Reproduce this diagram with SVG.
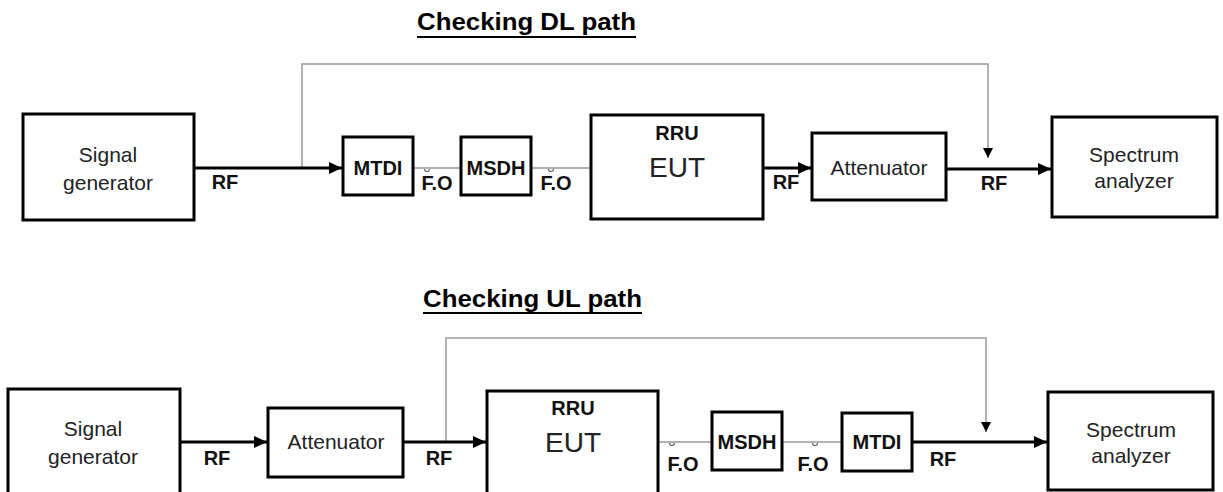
<svg xmlns="http://www.w3.org/2000/svg" width="1223" height="492" viewBox="0 0 1223 492">
<style>
.box{fill:#fff;stroke:#000;stroke-width:3}
.lbl{font-family:"Liberation Sans",Arial,sans-serif;font-size:21px;fill:#222;text-anchor:middle}
.bl{font-family:"Liberation Sans",Arial,sans-serif;font-weight:bold;font-size:20px;fill:#111;text-anchor:middle}
.title{font-family:"Liberation Sans",Arial,sans-serif;font-weight:bold;font-size:23px;fill:#000}
.thick{stroke:#000;stroke-width:3;fill:none}
.gray{stroke:#999;stroke-width:1.5;fill:none}
.fo{stroke:#666;stroke-width:1.2;fill:none}
</style>
<defs>
<marker id="ah" markerUnits="userSpaceOnUse" markerWidth="13" markerHeight="12" refX="13" refY="6" orient="auto">
<path d="M0,0 L13,6 L0,12 z" fill="#000"/>
</marker>
<marker id="ahs" markerUnits="userSpaceOnUse" markerWidth="10" markerHeight="10" refX="10" refY="5" orient="auto">
<path d="M0,0 L10,5 L0,10 z" fill="#000"/>
</marker>
</defs>

<g id="title-dl">
<text class="title" x="417" y="30" textLength="219" lengthAdjust="spacingAndGlyphs">Checking DL path</text>
<line x1="417" y1="37" x2="636" y2="37" stroke="#000" stroke-width="1.8"/>
</g>
<g id="title-ul">
<text class="title" x="423" y="307" textLength="219" lengthAdjust="spacingAndGlyphs">Checking UL path</text>
<line x1="423" y1="313" x2="642" y2="313" stroke="#000" stroke-width="1.8"/>
</g>

<g id="connectors">
<!-- DL -->
<polyline class="gray" points="302,168 302,64 988,64 988,158" marker-end="url(#ahs)"/>
<line class="thick" x1="194" y1="168" x2="342" y2="168" marker-end="url(#ah)"/>
<line class="fo" x1="413" y1="168" x2="461" y2="168"/>
<path class="fo" d="M424.5,169 a2.5,2.5 0 0 0 5,0"/>
<line class="fo" x1="531" y1="168" x2="591" y2="168"/>
<path class="fo" d="M548.5,169 a2.5,2.5 0 0 0 5,0"/>
<line class="thick" x1="763" y1="168" x2="811" y2="168" marker-end="url(#ah)"/>
<line class="thick" x1="946" y1="169" x2="1051" y2="169" marker-end="url(#ah)"/>
<!-- UL -->
<polyline class="gray" points="446,442 446,338 986,338 986,432" marker-end="url(#ahs)"/>
<line class="thick" x1="180" y1="442" x2="267" y2="442" marker-end="url(#ah)"/>
<line class="thick" x1="403" y1="442" x2="486" y2="442" marker-end="url(#ah)"/>
<line class="fo" x1="658" y1="442" x2="712" y2="442"/>
<path class="fo" d="M669.5,443 a2.5,2.5 0 0 0 5,0"/>
<line class="fo" x1="782" y1="442" x2="842" y2="442"/>
<path class="fo" d="M812.5,443 a2.5,2.5 0 0 0 5,0"/>
<line class="thick" x1="912" y1="442" x2="1047" y2="442" marker-end="url(#ah)"/>
<!-- labels -->
<text class="bl" x="225" y="189">RF</text>
<text class="bl" x="437" y="190">F.O</text>
<text class="bl" x="556" y="190">F.O</text>
<text class="bl" x="786" y="189">RF</text>
<text class="bl" x="994" y="190">RF</text>
<text class="bl" x="217" y="465">RF</text>
<text class="bl" x="439" y="465">RF</text>
<text class="bl" x="683" y="471">F.O</text>
<text class="bl" x="813" y="471">F.O</text>
<text class="bl" x="943" y="466">RF</text>
</g>

<!-- DL nodes -->
<g id="dl-siggen">
<rect class="box" x="23" y="114" width="171" height="106"/>
<text class="lbl" x="108" y="162">Signal</text>
<text class="lbl" x="108" y="190">generator</text>
</g>
<g id="dl-mtdi">
<rect class="box" x="343" y="137" width="70" height="58"/>
<text class="bl" x="378" y="175">MTDI</text>
</g>
<g id="dl-msdh">
<rect class="box" x="461" y="137" width="70" height="58"/>
<text class="bl" x="496" y="175">MSDH</text>
</g>
<g id="dl-eut">
<rect class="box" x="591" y="115" width="172" height="104"/>
<text class="bl" x="677" y="140">RRU</text>
<text class="lbl" x="677" y="177" style="font-size:28px">EUT</text>
</g>
<g id="dl-att">
<rect class="box" x="812" y="133" width="134" height="67"/>
<text class="lbl" x="879" y="175">Attenuator</text>
</g>
<g id="dl-sa">
<rect class="box" x="1052" y="117" width="165" height="100"/>
<text class="lbl" x="1134" y="162">Spectrum</text>
<text class="lbl" x="1134" y="188">analyzer</text>
</g>

<!-- UL nodes -->
<g id="ul-siggen">
<rect class="box" x="8" y="389" width="172" height="110"/>
<text class="lbl" x="93" y="436">Signal</text>
<text class="lbl" x="93" y="464">generator</text>
</g>
<g id="ul-att">
<rect class="box" x="268" y="408" width="135" height="69"/>
<text class="lbl" x="336" y="449">Attenuator</text>
</g>
<g id="ul-eut">
<rect class="box" x="487" y="391" width="171" height="110"/>
<text class="bl" x="573" y="415">RRU</text>
<text class="lbl" x="573" y="452" style="font-size:28px">EUT</text>
</g>
<g id="ul-msdh">
<rect class="box" x="712" y="412" width="70" height="58"/>
<text class="bl" x="747" y="449">MSDH</text>
</g>
<g id="ul-mtdi">
<rect class="box" x="842" y="413" width="70" height="58"/>
<text class="bl" x="877" y="449">MTDI</text>
</g>
<g id="ul-sa">
<rect class="box" x="1048" y="392" width="165" height="98"/>
<text class="lbl" x="1131" y="437">Spectrum</text>
<text class="lbl" x="1131" y="463">analyzer</text>
</g>
</svg>
